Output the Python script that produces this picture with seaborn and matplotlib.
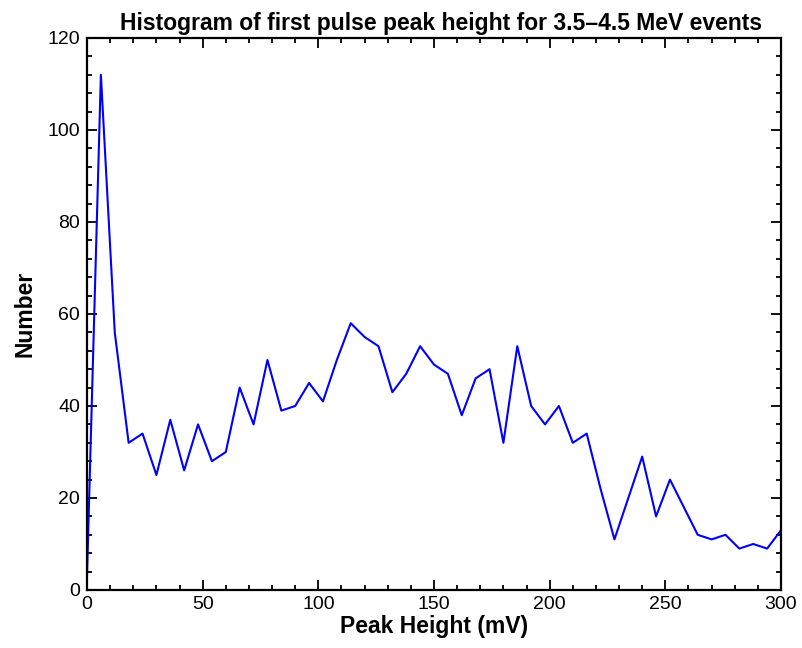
import numpy as np
import pandas as pd
import matplotlib
matplotlib.use("Agg")
import matplotlib.pyplot as plt
import seaborn as sns
from matplotlib.ticker import MultipleLocator

# bin position (mV) and counts
peak_mv = [0, 6, 12, 18, 24, 30, 36, 42, 48, 54, 60, 66, 72, 78, 84, 90, 96,
           102, 108, 114, 120, 126, 132, 138, 144, 150, 156, 162, 168, 174,
           180, 186, 192, 198, 204, 210, 216, 222, 228, 234, 240, 246, 252,
           258, 264, 270, 276, 282, 288, 294, 300, 306]
counts = [3, 112, 56, 32, 34, 25, 37, 26, 36, 28, 30, 44, 36, 50, 39, 40, 45,
          41, 50, 58, 55, 53, 43, 47, 53, 49, 47, 38, 46, 48,
          32, 53, 40, 36, 40, 32, 34, 22, 11, 20, 29, 16, 24,
          18, 12, 11, 12, 9, 10, 9, 13, 10]

title = "Histogram of first pulse peak height for 3.5\u20134.5 MeV events"

sns.set_style("ticks")
plt.rcParams['font.family'] = ['Liberation Sans', 'DejaVu Sans']
plt.rcParams['text.color'] = "black"
plt.rcParams['axes.labelcolor'] = "black"

df = pd.DataFrame({"peak": peak_mv, "n": counts})

fig = plt.figure(figsize=(8.03, 6.48), dpi=100)
ax = fig.add_axes([87 / 803, 58 / 648, 694 / 803, 552 / 648])

sns.lineplot(data=df, x="peak", y="n", ax=ax, color="#0000ff", linewidth=1.5,
             sort=False)

ax.set_xlim(0, 300)
ax.set_ylim(0, 120)
ax.xaxis.set_major_locator(MultipleLocator(50))
ax.xaxis.set_minor_locator(MultipleLocator(10))
ax.yaxis.set_major_locator(MultipleLocator(20))
ax.yaxis.set_minor_locator(MultipleLocator(4))
ax.tick_params(which="both", direction="in", top=True, right=True,
               color="black", width=1.3, labelsize=14, labelcolor="black")
ax.tick_params(which="major", length=7)
ax.tick_params(which="minor", length=3.5)
ax.tick_params(axis="x", which="major", pad=4.2)
ax.tick_params(axis="y", which="major", pad=5)
for sp in ax.spines.values():
    sp.set_visible(True)
    sp.set_linewidth(1.6)
    sp.set_color("black")

ax.set_xlabel("Peak Height (mV)", fontsize=16.5, fontweight="bold",
              labelpad=1.2)
ax.set_ylabel("Number", fontsize=16.5, fontweight="bold", labelpad=8)
ax.set_title(title, fontsize=16.5, fontweight="bold", pad=6, x=0.51)

fig.savefig("out.png", dpi=100)
